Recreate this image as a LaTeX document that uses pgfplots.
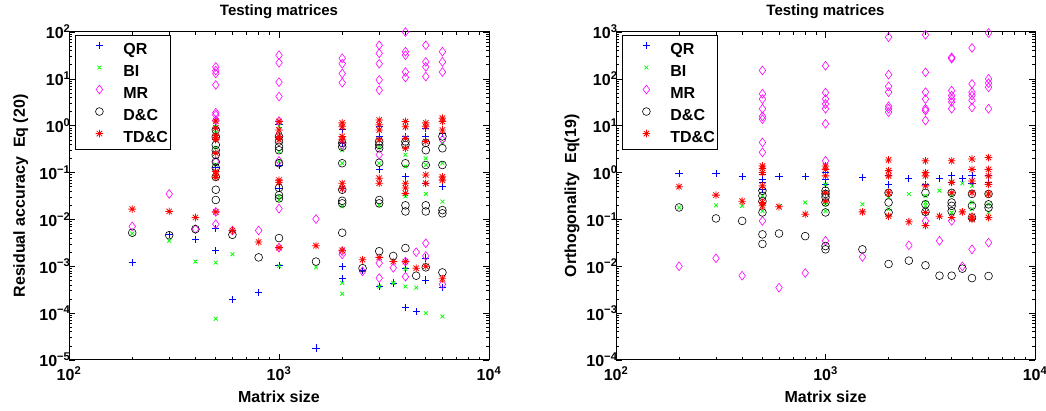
\documentclass[border=0pt]{standalone}
\usepackage{fontspec}
\setmainfont{Liberation Sans}
\usepackage{pgfplots}
\pgfplotsset{compat=1.18}
\definecolor{mblue}{rgb}{0,0,1}
\definecolor{mgreen}{rgb}{0,1,0}
\definecolor{mmag}{rgb}{1,0,1}
\definecolor{mred}{rgb}{1,0,0}
\pgfdeclareplotmark{ast8}{%
 \pgfpathmoveto{\pgfqpoint{-\pgfplotmarksize}{0pt}}\pgfpathlineto{\pgfqpoint{\pgfplotmarksize}{0pt}}%
 \pgfpathmoveto{\pgfqpoint{0pt}{-\pgfplotmarksize}}\pgfpathlineto{\pgfqpoint{0pt}{\pgfplotmarksize}}%
 \pgfpathmoveto{\pgfqpoint{-0.707\pgfplotmarksize}{-0.707\pgfplotmarksize}}\pgfpathlineto{\pgfqpoint{0.707\pgfplotmarksize}{0.707\pgfplotmarksize}}%
 \pgfpathmoveto{\pgfqpoint{-0.707\pgfplotmarksize}{0.707\pgfplotmarksize}}\pgfpathlineto{\pgfqpoint{0.707\pgfplotmarksize}{-0.707\pgfplotmarksize}}%
 \pgfusepathqstroke}
\pgfdeclareplotmark{bpls}{%
 \pgfsetstrokecolor{mblue}%
 \pgfpathmoveto{\pgfqpoint{-\pgfplotmarksize}{0pt}}\pgfpathlineto{\pgfqpoint{\pgfplotmarksize}{0pt}}%
 \pgfpathmoveto{\pgfqpoint{0pt}{-\pgfplotmarksize}}\pgfpathlineto{\pgfqpoint{0pt}{\pgfplotmarksize}}%
 \pgfusepathqstroke}
\pgfplotsset{
 qr/.style={only marks, mark=bpls, color=mblue, mark options={draw=mblue}, mark size=3.6pt, line width=0.8pt},
 bi/.style={only marks, mark=x, color=mgreen, mark options={draw=mgreen}, mark size=2.7pt, line width=0.75pt},
 mr/.style={only marks, mark=diamond, color=mmag, mark options={draw=mmag}, mark size=4.4pt, line width=0.6pt},
 dc/.style={only marks, mark=o, color=black, mark size=3.9pt, line width=0.6pt},
 tdc/.style={only marks, mark=ast8, color=mred, mark options={draw=mred}, mark size=3.8pt, line width=0.8pt},
}
\begin{document}
\begin{tikzpicture}
\path[use as bounding box] (0,0) rectangle (1046pt,411pt);
\begin{axis}[
  xmode=log, ymode=log, scale only axis, width=420pt, height=328pt,
  at={(69pt,51pt)}, anchor=south west,
  xmin=100, xmax=10000,
  xtick={100,1000,10000},
  xticklabels={10\textsuperscript{2},10\textsuperscript{3},10\textsuperscript{4}},
  tick label style={font=\fontsize{16}{18}\selectfont\bfseries},
  xticklabel style={yshift=-3pt},
  yticklabel style={xshift=5pt},
  label style={font=\fontsize{16}{18}\selectfont\bfseries},
  title style={font=\fontsize{15}{17}\selectfont\bfseries, at={(axis description cs:0.5,1)}, anchor=base, yshift=10pt},
  xlabel style={at={(axis description cs:0.5,0)}, anchor=base, yshift=-43pt},
  axis line style={line width=1pt},
  major tick length=6pt, minor tick length=3pt,
  every tick/.style={black, line width=0.6pt},
  legend style={at={(axis description cs:0.0143,0.991)}, anchor=north west,
    font=\fontsize{16}{18}\selectfont\bfseries, draw=black, line width=0.8pt,
    inner xsep=3pt, inner ysep=2pt, row sep=0pt,
    nodes={inner sep=0pt, text height=16.8pt, text depth=5.2pt}},
  legend cell align=left,
  legend image code/.code={\path[draw=none] (0pt,0pt) (45pt,0pt); \draw[#1] plot coordinates {(21pt,2.8pt)};},
  ymin=1e-5, ymax=1e2,
  ytick={1e-5,1e-4,1e-3,1e-2,1e-1,1,10,100},
  yticklabels={10\textsuperscript{−5},10\textsuperscript{−4},10\textsuperscript{−3},10\textsuperscript{−2},10\textsuperscript{−1},10\textsuperscript{0},10\textsuperscript{1},10\textsuperscript{2}},
  title={Testing matrices}, xlabel={Matrix size}, ylabel={Residual accuracy\ \ Eq (20)},
  ylabel style={at={(axis description cs:-0.105,0.5)}, anchor=base},
]
\addplot[qr] coordinates {
(200,1.2e-3)(300,4.8e-3)(400,3.8e-3)
(500,0.89)(500,0.63)(500,0.50)(500,0.132)(500,6.3e-3)(500,2.2e-3)
(600,1.95e-4)(800,2.8e-4)
(1000,1.05)(1000,0.59)(1000,0.145)(1000,0.047)(1000,1.02e-3)
(1500,1.8e-5)
(2000,0.85)(2000,0.43)(2000,0.045)(2000,1.0e-3)(2000,5.4e-4)
(2500,8.1e-4)
(3000,0.95)(3000,0.59)(3000,0.115)(3000,3.7e-4)
(3500,4.4e-4)
(4000,0.59)(4000,0.081)(4000,9.1e-4)(4000,1.3e-4)
(4500,1.1e-4)
(5000,0.89)(5000,0.59)(5000,0.059)(5000,1.5e-3)(5000,5.1e-4)
(6000,0.69)(6000,0.050)(6000,3.5e-4)
};
\addlegendentry{QR}
\addplot[bi] coordinates {
(200,5.0e-3)(300,3.5e-3)(400,1.26e-3)
(500,0.95)(500,0.71)(500,0.34)(500,0.148)(500,0.081)(500,1.2e-3)(500,7.6e-5)
(600,1.8e-3)
(1000,0.98)(1000,0.50)(1000,0.28)(1000,0.174)(1000,0.031)(1000,0.026)(1000,1.02e-3)
(1500,9.5e-4)
(2000,0.30)(2000,0.158)(2000,0.019)(2000,4.4e-4)(2000,2.6e-4)
(3000,0.34)(3000,0.158)(3000,0.020)(3000,3.7e-4)
(3500,4.4e-4)
(4000,0.24)(4000,0.135)(4000,0.031)(4000,8.7e-4)(4000,3.7e-4)
(4500,3.5e-4)
(5000,0.20)(5000,0.145)(5000,0.035)(5000,1.0e-4)
(6000,0.43)(6000,0.158)(6000,0.024)(6000,8.5e-5)
};
\addlegendentry{BI}
\addplot[mr] coordinates {
(200,7.1e-3)(300,0.035)(400,6.2e-3)
(500,18)(500,15)(500,13)(500,7.4)(500,1.9)(500,1.7)(500,1.3)(500,0.17)(500,0.0145)(500,7.9e-3)
(600,5.8e-3)(800,5.8e-3)
(1000,32)(1000,22)(1000,8.5)(1000,4.2)(1000,1.26)(1000,0.178)(1000,0.017)(1000,2.5e-3)
(1500,0.0102)
(2000,27.5)(2000,21)(2000,13)(2000,8.3)(2000,0.39)(2000,2.1e-3)(2000,1.8e-3)
(2500,7.8e-4)
(3000,52)(3000,35)(3000,21)(3000,9.5)(3000,5.75)(3000,0.24)(3000,1.17e-3)(3000,5.6e-4)
(3500,9.3e-4)
(4000,100)(4000,38)(4000,32)(4000,14)(4000,10.7)(4000,1.26e-3)(4000,6.0e-4)
(4500,2.0e-3)
(5000,52)(5000,23)(5000,18)(5000,11.2)(5000,3.1e-3)(5000,1.66e-3)
(6000,38)(6000,23)(6000,14)(6000,0.50)(6000,4.1e-4)
};
\addlegendentry{MR}
\addplot[dc] coordinates {
(200,5.2e-3)(300,4.6e-3)(400,6.2e-3)
(500,0.81)(500,0.58)(500,0.39)(500,0.30)(500,0.24)(500,0.17)(500,0.126)(500,0.081)(500,0.043)(500,0.026)
(600,4.7e-3)(800,1.55e-3)
(1000,0.59)(1000,0.46)(1000,0.355)(1000,0.30)(1000,0.158)(1000,0.047)(1000,0.033)(1000,0.028)(1000,4.0e-3)
(1500,1.26e-3)
(2000,0.43)(2000,0.355)(2000,0.158)(2000,0.043)(2000,0.025)(2000,0.022)(2000,5.2e-3)
(2500,9.1e-4)
(3000,0.46)(3000,0.39)(3000,0.33)(3000,0.162)(3000,0.026)(3000,0.022)(3000,2.1e-3)
(3500,1.66e-3)
(4000,0.46)(4000,0.39)(4000,0.158)(4000,0.020)(4000,0.0148)(4000,2.45e-3)
(4500,6.3e-4)
(5000,0.43)(5000,0.30)(5000,0.145)(5000,0.020)(5000,0.0148)(5000,9.5e-4)
(6000,0.59)(6000,0.33)(6000,0.145)(6000,0.0158)(6000,0.0135)(6000,7.4e-4)
};
\addlegendentry{D\&C}
\addplot[tdc] coordinates {
(200,0.0166)(300,0.0148)(400,0.011)
(500,1.26)(500,0.89)(500,0.63)(500,0.55)(500,0.50)(500,0.26)(500,0.105)(500,0.089)(500,0.078)(500,0.0145)
(600,5.8e-3)(800,3.3e-3)
(1000,1.23)(1000,0.81)(1000,0.59)(1000,0.50)(1000,0.069)(1000,0.062)(1000,2.5e-3)
(1500,2.75e-3)
(2000,1.15)(2000,0.95)(2000,0.59)(2000,0.50)(2000,0.059)(2000,0.045)(2000,2.2e-3)
(2500,1.38e-3)
(3000,1.32)(3000,1.05)(3000,0.81)(3000,0.50)(3000,0.076)(3000,0.059)(3000,1.55e-3)
(3500,1.26e-3)
(4000,1.23)(4000,0.95)(4000,0.54)(4000,0.33)(4000,0.059)(4000,0.047)(4000,0.036)(4000,1.26e-3)
(4500,9.1e-4)
(5000,1.15)(5000,0.95)(5000,0.46)(5000,0.089)(5000,0.059)(5000,1.0e-3)
(6000,1.45)(6000,1.23)(6000,0.81)(6000,0.081)(6000,0.069)(6000,5.4e-4)
};
\addlegendentry{TD\&C}
\end{axis}
\begin{axis}[
  xmode=log, ymode=log, scale only axis, width=419pt, height=328pt,
  at={(616pt,51pt)}, anchor=south west,
  xmin=100, xmax=10000,
  xtick={100,1000,10000},
  xticklabels={10\textsuperscript{2},10\textsuperscript{3},10\textsuperscript{4}},
  tick label style={font=\fontsize{16}{18}\selectfont\bfseries},
  xticklabel style={yshift=-3pt},
  yticklabel style={xshift=5pt},
  label style={font=\fontsize{16}{18}\selectfont\bfseries},
  title style={font=\fontsize{15}{17}\selectfont\bfseries, at={(axis description cs:0.5,1)}, anchor=base, yshift=10pt},
  xlabel style={at={(axis description cs:0.5,0)}, anchor=base, yshift=-43pt},
  axis line style={line width=1pt},
  major tick length=6pt, minor tick length=3pt,
  every tick/.style={black, line width=0.6pt},
  legend style={at={(axis description cs:0.0143,0.991)}, anchor=north west,
    font=\fontsize{16}{18}\selectfont\bfseries, draw=black, line width=0.8pt,
    inner xsep=3pt, inner ysep=2pt, row sep=0pt,
    nodes={inner sep=0pt, text height=16.8pt, text depth=5.2pt}},
  legend cell align=left,
  legend image code/.code={\path[draw=none] (0pt,0pt) (45pt,0pt); \draw[#1] plot coordinates {(21pt,2.8pt)};},
  ymin=1e-4, ymax=1e3,
  ytick={1e-4,1e-3,1e-2,1e-1,1,10,100,1000},
  yticklabels={10\textsuperscript{−4},10\textsuperscript{−3},10\textsuperscript{−2},10\textsuperscript{−1},10\textsuperscript{0},10\textsuperscript{1},10\textsuperscript{2},10\textsuperscript{3}},
  title={Testing matrices}, xlabel={Matrix size}, ylabel={Orthogonality\ \ Eq(19)},
  ylabel style={at={(axis description cs:-0.095,0.5)}, anchor=base},
]
\addplot[qr] coordinates {
(200,0.95)(300,0.95)(400,0.83)
(500,0.93)(500,0.72)(500,0.62)(500,0.44)
(600,0.81)(800,0.81)
(1000,1.0)(1000,0.72)(1000,0.56)
(1500,0.79)
(2000,0.85)(2000,0.56)
(2500,0.74)
(3000,1.0)(3000,0.56)
(3500,0.74)
(4000,0.85)(4000,0.62)
(4500,0.74)
(5000,0.85)(5000,0.59)
(6000,0.85)(6000,0.62)
};
\addlegendentry{QR}
\addplot[bi] coordinates {
(200,0.18)(300,0.20)(400,0.195)
(500,0.32)(500,0.21)(500,0.15)
(600,0.19)(800,0.23)
(1000,0.56)(1000,0.21)(1000,0.15)
(1500,0.21)
(2000,0.30)(2000,0.166)
(2500,0.35)
(3000,0.32)(3000,0.23)(3000,0.195)
(3500,0.41)
(4000,0.62)(4000,0.32)(4000,0.14)
(4500,0.59)
(5000,0.52)(5000,0.23)(5000,0.166)
(6000,0.35)(6000,0.21)(6000,0.14)
};
\addlegendentry{BI}
\addplot[mr] coordinates {
(200,0.010)(300,0.0148)(400,6.3e-3)
(500,151)(500,48)(500,37)(500,23)(500,15.8)(500,13.8)(500,4.4)(500,2.7)(500,0.093)
(600,3.5e-3)(800,7.2e-3)
(1000,190)(1000,51)(1000,37)(1000,29)(1000,23)(1000,11)(1000,1.78)(1000,0.035)
(1500,0.0158)
(2000,776)(2000,123)(2000,69)(2000,52)(2000,26)(2000,23)(2000,19.5)
(2500,0.028)
(3000,870)(3000,138)(3000,52)(3000,37)(3000,23)(3000,21)(3000,12.9)(3000,0.093)
(3500,0.035)
(4000,288)(4000,269)(4000,56)(4000,44)(4000,37)(4000,32)(4000,23)(4000,0.093)
(4500,0.010)
(5000,457)(5000,78)(5000,52)(5000,44)(5000,35)(5000,24.5)(5000,0.023)
(6000,955)(6000,100)(6000,81)(6000,66)(6000,23)(6000,0.032)
};
\addlegendentry{MR}
\addplot[dc] coordinates {
(200,0.18)(300,0.105)(400,0.093)
(500,0.41)(500,0.32)(500,0.245)(500,0.141)(500,0.048)(500,0.030)
(600,0.050)(800,0.044)
(1000,0.41)(1000,0.35)(1000,0.30)(1000,0.23)(1000,0.141)(1000,0.027)(1000,0.023)
(1500,0.023)
(2000,0.37)(2000,0.23)(2000,0.141)(2000,0.0112)
(2500,0.0132)
(3000,0.37)(3000,0.21)(3000,0.145)(3000,0.0105)
(3500,6.3e-3)
(4000,0.37)(4000,0.23)(4000,0.195)(4000,0.15)(4000,6.3e-3)
(4500,8.9e-3)
(5000,0.35)(5000,0.195)(5000,0.11)(5000,5.6e-3)
(6000,0.35)(6000,0.21)(6000,0.178)(6000,6.2e-3)
};
\addlegendentry{D\&C}
\addplot[tdc] coordinates {
(200,0.50)(300,0.33)(400,0.245)
(500,1.38)(500,1.23)(500,1.0)(500,0.52)(500,0.23)(500,0.195)
(600,0.186)(800,0.129)
(1000,1.38)(1000,1.17)(1000,0.85)(1000,0.37)(1000,0.245)
(1500,0.145)
(2000,1.86)(2000,1.10)(2000,0.85)(2000,0.37)(2000,0.117)
(2500,0.089)
(3000,1.78)(3000,1.0)(3000,0.85)(3000,0.52)(3000,0.141)(3000,0.074)
(3500,0.117)
(4000,1.78)(4000,0.62)(4000,0.37)(4000,0.11)
(4500,0.145)
(5000,1.95)(5000,1.17)(5000,0.66)(5000,0.37)(5000,0.117)(5000,0.10)
(6000,2.09)(6000,1.17)(6000,0.85)(6000,0.56)(6000,0.35)(6000,0.11)
};
\addlegendentry{TD\&C}
\end{axis}
\end{tikzpicture}
\end{document}
